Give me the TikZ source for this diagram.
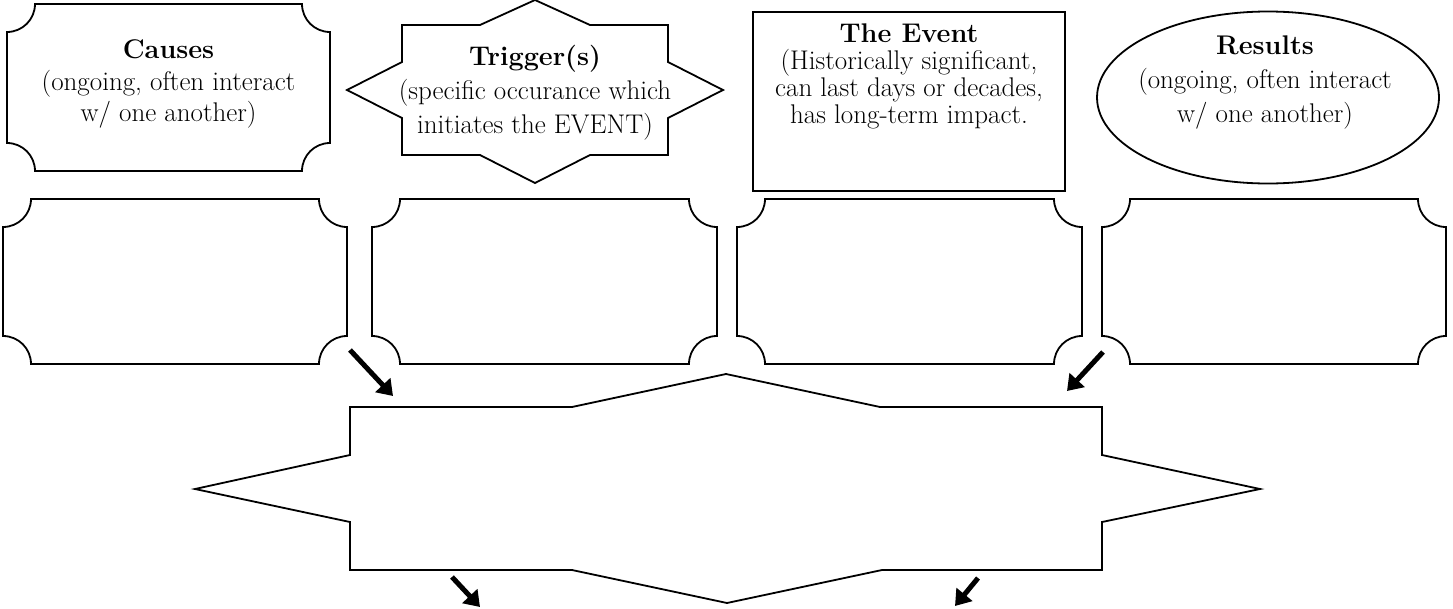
\documentclass[tikz,border=0pt]{standalone}
\usepackage{fontspec}
\usetikzlibrary{arrows.meta,shapes.geometric}
\newcommand\myplaque[5]{%
  \draw[outline] ({#2+28},#3) -- ({#4-28},#3) arc[start angle=180,end angle=90,radius=28]
    -- (#4,{#5-28}) arc[start angle=270,end angle=180,radius=28]
    -- ({#2+28},#5) arc[start angle=0,end angle=-90,radius=28]
    -- (#2,{#3+28}) arc[start angle=90,end angle=0,radius=28] -- cycle;
  \coordinate (#1) at ({(#2+#4)/2},{(#3+#5)/2});
}
\begin{document}
\begin{tikzpicture}[x=1pt,y=-1pt,
  outline/.style={draw=black,line width=1.8pt,line join=miter},
  txt/.style={align=center,inner sep=0pt,font=\fontsize{27}{31.5}\selectfont},
  bigarrow/.style={line width=5pt,-{Triangle[length=15pt,width=20pt]}}]
\useasboundingbox (0,0) rectangle (1453,608);

% top row
\myplaque{causesbox}{7}{4}{330}{171}
\node[txt] (causes) at (168.5,84) {\textbf{Causes}\\(ongoing, often interact\\w/ one another)};

\draw[outline] (535,0) -- (590,25) -- (668,25) -- (668,62) -- (723,90) -- (668,118) -- (668,155)
  -- (590,155) -- (535,183) -- (480,155) -- (402,155) -- (402,118) -- (347,90) -- (402,62)
  -- (402,25) -- (480,25) -- cycle;
\node[txt,font=\fontsize{27}{34}\selectfont] (trigger) at (535,93) {\textbf{Trigger(s)}\\(specific occurance which\\initiates the EVENT)};

\node[outline,rectangle,minimum width=312pt,minimum height=179pt,inner sep=0pt] (eventbox) at (909,101.5) {};
\node[txt,font=\fontsize{27}{27}\selectfont] (event) at (909,76) {\textbf{The Event}\\(Historically significant,\\can last days or decades,\\has long-term impact.};

\node[outline,ellipse,minimum width=342pt,minimum height=172pt,inner sep=0pt] (resultsbox) at (1268,97.5) {};
\node[txt,font=\fontsize{27}{34}\selectfont] (results) at (1265,83) {\textbf{Results}\\(ongoing, often interact\\w/ one another)};

% second row
\myplaque{p1}{3}{199}{347}{364}
\myplaque{p2}{372}{199}{717}{364}
\myplaque{p3}{737}{199}{1082}{364}
\myplaque{p4}{1102}{199}{1446}{364}

% big star
\draw[outline] (350,407) -- (572,407) -- (726,374) -- (880,407) -- (1102,407) -- (1102,455)
  -- (1260,489) -- (1102,522) -- (1102,570) -- (882,570) -- (727,603) -- (572,570)
  -- (350,570) -- (350,522) -- (195,489) -- (350,455) -- cycle;
\coordinate (bigstar) at (726,489);

% arrows
\coordinate (a1s) at (350,350); \coordinate (a1e) at (393,396);
\coordinate (a2s) at (1103,352); \coordinate (a2e) at (1067,391);
\coordinate (a3s) at (452,577); \coordinate (a3e) at (480,607);
\coordinate (a4s) at (978,578); \coordinate (a4e) at (955,606);
\draw[bigarrow] (a1s) -- (a1e);
\draw[bigarrow] (a2s) -- (a2e);
\draw[bigarrow] (a3s) -- (a3e);
\draw[bigarrow] (a4s) -- (a4e);
\end{tikzpicture}
\end{document}
